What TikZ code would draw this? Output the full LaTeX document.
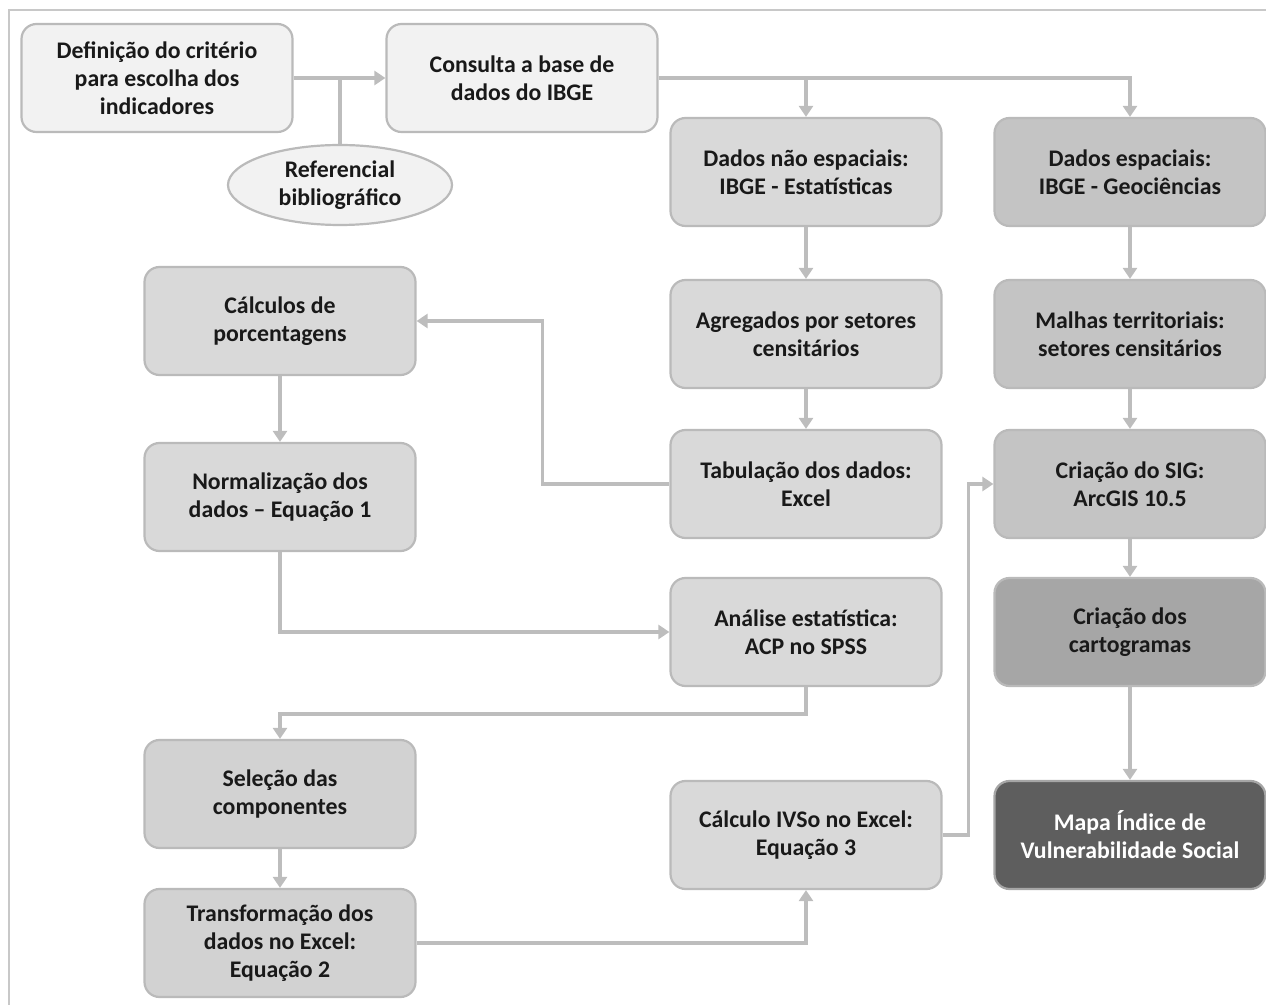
\documentclass[tikz,border=0pt]{standalone}
\usepackage{fontspec}
\setmainfont{Carlito}
\usetikzlibrary{arrows.meta,positioning,shapes.geometric}
\definecolor{paleGrey}{HTML}{F2F2F2}
\definecolor{midGrey}{HTML}{D9D9D9}
\definecolor{selGrey}{HTML}{D2D2D2}
\definecolor{spatGrey}{HTML}{C4C4C4}
\definecolor{cartoGrey}{HTML}{A6A6A6}
\definecolor{mapGrey}{HTML}{5E5E5E}
\definecolor{edgeGrey}{HTML}{BABABA}
\definecolor{lineGrey}{HTML}{BDBDBD}

\begin{document}
\begin{tikzpicture}[
  x=0.5pt, y=-0.5pt,
  box/.style={rectangle, rounded corners=7.5pt, draw=edgeGrey, line width=1.1pt, fill=midGrey, align=center, minimum width=135.5pt, minimum height=54pt, inner sep=2pt, text=black!90, font=\bfseries\fontsize{11.9}{14}\selectfont},
  palebox/.style={box, fill=paleGrey},
  selbox/.style={box, fill=selGrey},
  spatbox/.style={box, fill=spatGrey},
  cartobox/.style={box, fill=cartoGrey},
  mapbox/.style={box, fill=mapGrey, draw=gray!70, text=white},
  refnode/.style={ellipse, draw=edgeGrey, line width=1.1pt, fill=paleGrey, align=center, minimum width=112pt, minimum height=40pt, inner sep=0pt, text=black!90, font=\bfseries\fontsize{11.9}{14}\selectfont},
  link/.style={draw=lineGrey, line width=1.7pt},
  arrow/.style={link, -{Triangle[length=5.5pt, width=7pt]}}
]
\useasboundingbox (0,0) rectangle (1266,1005);

% frame
\draw[edgeGrey!80, line width=0.8pt] (9,1005) -- (9,10) -- (1266,10);

% top row
\node[palebox] (crit) at (157,78) {Definição do critério\\para escolha dos\\indicadores};
\node[palebox] (cons) at (522,78) {Consulta a base de\\dados do IBGE};
\node[refnode] (ref) at (340,185) {Referencial\\bibliográfico};

% middle column
\node[box] (naoesp) at (806,172) {Dados não espaciais:\\IBGE - Estatísticas};
\node[box] (agreg) at (806,334) {Agregados por setores\\censitários};
\node[box] (tab) at (806,484) {Tabulação dos dados:\\Excel};
\node[box] (acp) at (806,632) {Análise estatística:\\ACP no SPSS};
\node[box] (ivso) at (806,835) {Cálculo IVSo no Excel:\\Equação 3};

% right column
\node[spatbox] (esp) at (1130,172) {Dados espaciais:\\IBGE - Geociências};
\node[spatbox] (malhas) at (1130,334) {Malhas territoriais:\\setores censitários};
\node[spatbox] (sig) at (1130,484) {Criação do SIG:\\ArcGIS 10.5};
\node[cartobox] (carto) at (1130,632) {Criação dos\\cartogramas};
\node[mapbox] (mapa) at (1130,835) {Mapa Índice de\\Vulnerabilidade Social};

% left column
\node[box] (perc) at (280,321) {Cálculos de\\porcentagens};
\node[box] (norm) at (280,497) {Normalização dos\\dados -- Equação 1};
\node[selbox] (sel) at (280,794) {Seleção das\\componentes};
\node[selbox] (transf) at (280,943) {Transformação dos\\dados no Excel:\\Equação 2};

% connectors
\coordinate (split) at (cons.east -| naoesp.north);
\draw[arrow] (crit) -- (cons);
\draw[link] (ref.north) -- (ref.north |- crit.east);
\draw[arrow] (cons.east) -| (esp.north);
\draw[arrow] (split) -- (naoesp.north);
\draw[arrow] (naoesp) -- (agreg);
\draw[arrow] (agreg) -- (tab);
\draw[arrow] (esp) -- (malhas);
\draw[arrow] (malhas) -- (sig);
\draw[arrow] (sig) -- (carto);
\draw[arrow] (carto) -- (mapa);
\draw[arrow] (tab.west) -- ++(-127,0) |- (perc.east);
\draw[arrow] (perc) -- (norm);
\draw[arrow] (norm.south) |- (acp.west);
\draw[arrow] (acp.south) -- ++(0,27) -| (sel.north);
\draw[arrow] (sel) -- (transf);
\draw[arrow] (transf.east) -| (ivso.south);
\draw[arrow] (ivso.east) -- ++(26,0) |- (sig.west);

\end{tikzpicture}
\end{document}
